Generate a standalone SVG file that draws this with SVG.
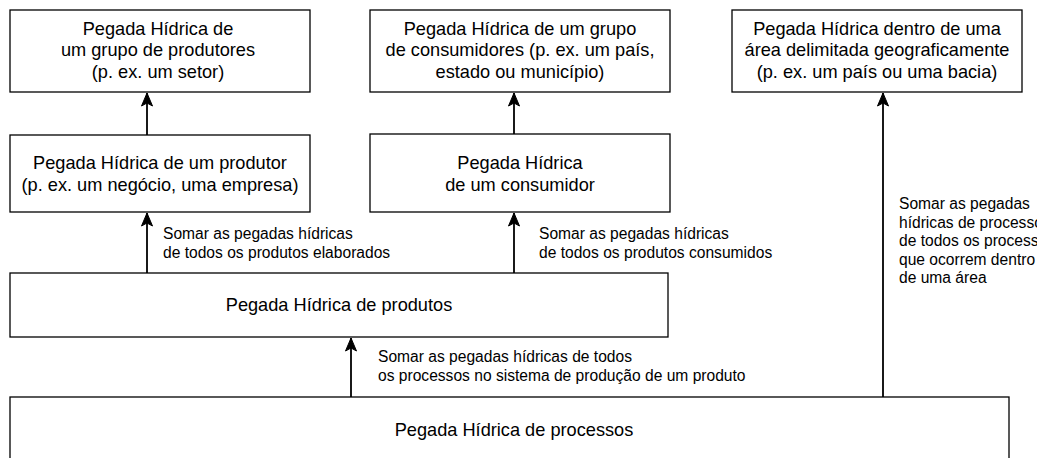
<svg xmlns="http://www.w3.org/2000/svg" width="1037" height="458" viewBox="0 0 1037 458">
<style>
.box{fill:#fff;stroke:#000;stroke-width:1.3}
.t{font-family:"Liberation Sans",Arial,sans-serif;font-size:18.2px;fill:#000;text-anchor:middle}
.s{font-family:"Liberation Sans",Arial,sans-serif;font-size:15.6px;fill:#000}
.c{fill:none;stroke:#000;stroke-width:1.8}
</style>
<defs>
<marker id="ah" markerUnits="userSpaceOnUse" markerWidth="16" markerHeight="16" viewBox="-8 -1 16 16" refX="0" refY="0" orient="0" overflow="visible">
<path d="M0,0 L5.5,13 L0,10 L-5.5,13 Z" fill="#000" stroke="#000" stroke-width="1"/>
</marker>
</defs>
<rect x="0" y="0" width="1037" height="458" fill="#fff"/>
<g id="n1"><rect class="box" x="10" y="10" width="300" height="82"/>
<text class="t" x="158" y="34.5">Pegada Hídrica de</text>
<text class="t" x="158" y="56">um grupo de produtores</text>
<text class="t" x="158" y="77.5">(p. ex. um setor)</text></g>
<g id="n2"><rect class="box" x="10" y="135" width="300" height="77"/>
<text class="t" x="160" y="169">Pegada Hídrica de um produtor</text>
<text class="t" x="160" y="191">(p. ex. um negócio, uma empresa)</text></g>
<g id="n3"><rect class="box" x="370" y="10" width="300" height="82"/>
<text class="t" x="520" y="34.5">Pegada Hídrica de um grupo</text>
<text class="t" x="520" y="56">de consumidores (p. ex. um país,</text>
<text class="t" x="520" y="77.5">estado ou município)</text></g>
<g id="n4"><rect class="box" x="370" y="134" width="300" height="78"/>
<text class="t" x="520" y="169">Pegada Hídrica</text>
<text class="t" x="520" y="191">de um consumidor</text></g>
<g id="n5"><rect class="box" x="732" y="10" width="290" height="82"/>
<text class="t" x="877" y="34.5">Pegada Hídrica dentro de uma</text>
<text class="t" x="877" y="56">área delimitada geograficamente</text>
<text class="t" x="877" y="77.5">(p. ex. um país ou uma bacia)</text></g>
<g id="n6"><rect class="box" x="10" y="273" width="658" height="64"/>
<text class="t" x="339" y="310.5">Pegada Hídrica de produtos</text></g>
<g id="n7"><rect class="box" x="10" y="397" width="999" height="80"/>
<text class="t" x="514" y="435.5">Pegada Hídrica de processos</text></g>
<g id="connectors">
<path class="c" d="M147,135 V93" marker-end="url(#ah)"/>
<path class="c" d="M514,134 V93" marker-end="url(#ah)"/>
<path class="c" d="M883,397 V93" marker-end="url(#ah)"/>
<path class="c" d="M147,273 V213" marker-end="url(#ah)"/>
<path class="c" d="M514,273 V213" marker-end="url(#ah)"/>
<path class="c" d="M351,397 V338" marker-end="url(#ah)"/>
<text class="s" x="163" y="239">Somar as pegadas hídricas</text>
<text class="s" x="163" y="257.5">de todos os produtos elaborados</text>
<text class="s" x="539" y="239">Somar as pegadas hídricas</text>
<text class="s" x="539" y="257.5">de todos os produtos consumidos</text>
<text class="s" x="378" y="362">Somar as pegadas hídricas de todos</text>
<text class="s" x="378" y="381">os processos no sistema de produção de um produto</text>
<text class="s" x="899" y="209">Somar as pegadas</text>
<text class="s" x="899" y="227.5">hídricas de processos</text>
<text class="s" x="899" y="246">de todos os processos</text>
<text class="s" x="899" y="264.5">que ocorrem dentro</text>
<text class="s" x="899" y="283">de uma área</text>
</g>
</svg>
